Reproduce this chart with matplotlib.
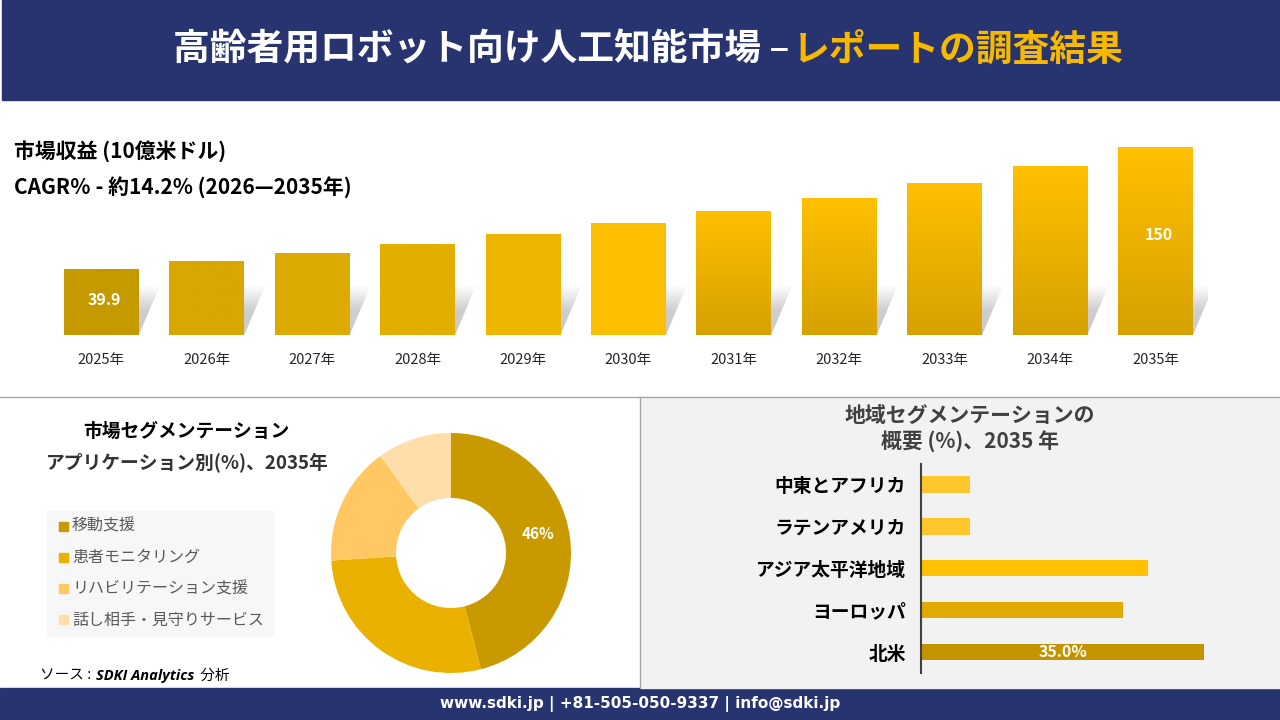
import matplotlib.pyplot as plt
import numpy as np
from matplotlib.patches import Rectangle, Polygon
from matplotlib.colors import LinearSegmentedColormap

plt.rcParams['font.family'] = ['Noto Sans CJK JP', 'DejaVu Sans']

# ---- data ----
years = ['2025年', '2026年', '2027年', '2028年', '2029年', '2030年',
         '2031年', '2032年', '2033年', '2034年', '2035年']
revenue = [39.9, 47.1, 54.3, 62.4, 71.5, 81.4, 92.5, 104.0, 117.8, 132.9, 150.0]
revenue_shown = {0: '39.9', 10: '150'}

app_labels = ['移動支援', '患者モニタリング', 'リハビリテーション支援', '話し相手・見守りサービス']
app_share = [46, 28, 16, 10]

regions = ['中東とアフリカ', 'ラテンアメリカ', 'アジア太平洋地域', 'ヨーロッパ', '北米']
region_share = [6.0, 6.0, 28.0, 25.0, 35.0]

# ---- style ----
NAVY = '#27346f'
bar_tops = ['#c49a00', '#d8a700', '#dcaa00', '#e2ae00', '#eeb600', '#fcbf00',
            '#ffc000', '#ffc000', '#ffc000', '#ffc000', '#ffc000']
bar_bottoms = ['#c49a00', '#d8a700', '#dcaa00', '#e2ae00', '#eeb600', '#fcbf00',
               '#d6a200', '#d6a200', '#d6a200', '#d6a200', '#d6a200']
pie_colors = ['#c89a00', '#ebb100', '#ffc862', '#ffdeab']
region_colors = ['#ffc72c', '#ffc72c', '#ffc000', '#e0aa00', '#c39400']

W, H = 1280, 720


def fx(px):
    return px / W


def fy(py):
    return 1 - py / H


fig = plt.figure(figsize=(12.8, 7.2), dpi=100)
fig.patch.set_facecolor('white')

# header / footer / panels
fig.add_artist(Rectangle((fx(2), fy(100)), 1, 100 / H, transform=fig.transFigure, color=NAVY, zorder=0))
fig.add_artist(Rectangle((0, 0), 1, 32 / H, transform=fig.transFigure, color=NAVY, zorder=0))
fig.add_artist(Rectangle((fx(641), fy(688)), 1, 291 / H, transform=fig.transFigure, color='#f2f2f2', zorder=0))
fig.add_artist(plt.Line2D([0, 1], [fy(397), fy(397)], transform=fig.transFigure, color='#a6a6a6', lw=1))
fig.add_artist(plt.Line2D([fx(640), fx(640)], [fy(397), fy(688)], transform=fig.transFigure, color='#a6a6a6', lw=1))

fig.text(fx(789), fy(50), '高齢者用ロボット向け人工知能市場 –', color='white', fontsize=26.5,
         fontweight='bold', ha='right', va='center')
fig.text(fx(793), fy(50), 'レポートの調査結果', color='#f7b900', fontsize=26.5,
         fontweight='bold', ha='left', va='center')
fig.text(0.5, fy(704), 'www.sdki.jp | +81-505-050-9337 | info@sdki.jp', color='white',
         fontsize=11, fontweight='bold', ha='center', va='center', family=['DejaVu Sans'])

# ---- top: revenue bars ----
fig.text(fx(14), fy(151), '市場収益 (10億米ドル)', fontsize=15, fontweight='bold', va='center')
fig.text(fx(14), fy(188), 'CAGR％ - 約14.2% (2026—2035年)', fontsize=15, fontweight='bold', va='center')

ymin, ymax = -19.7, 160
ax = fig.add_axes([fx(48.8), fy(335), 1159.4 / W, 199 / H])
x = np.arange(len(years))
w = 0.71
heights = np.array(revenue) - ymin
bars = ax.bar(x, heights, bottom=ymin, width=w, color=bar_tops, zorder=3)

shadow_cmap = LinearSegmentedColormap.from_list('sh', ['#c9c9c9', '#cfcfcf', '#ffffff'])
grad = np.linspace(0, 1, 64).reshape(-1, 1)
dx, dh = 0.2, 45
for i, b in enumerate(bars):
    x0 = b.get_x()
    x1 = x0 + b.get_width()
    poly = Polygon([(x0, ymin), (x1, ymin), (x1 + dx, ymin + dh), (x0 + dx, ymin + dh)],
                   closed=True, facecolor='none', edgecolor='none')
    ax.add_patch(poly)
    im = ax.imshow(grad, extent=(x0, x1 + dx, ymin, ymin + dh), cmap=shadow_cmap,
                   aspect='auto', zorder=2, origin='lower')
    im.set_clip_path(poly)
    cmap = LinearSegmentedColormap.from_list('b%d' % i, [bar_bottoms[i], bar_tops[i]])
    im2 = ax.imshow(grad, extent=(x0, x1, ymin, revenue[i]), cmap=cmap, aspect='auto',
                    zorder=4, origin='lower')
    im2.set_clip_path(b)

for i, txt in revenue_shown.items():
    ax.text(i + 0.03, ymin + 0.53 * heights[i], txt, color='white', fontsize=11.5,
            fontweight='bold', ha='center', va='center', zorder=6)

ax.set_xlim(-0.5, len(years) - 0.5)
ax.set_ylim(ymin, ymax)
ax.set_xticks(x, years)
ax.tick_params(axis='x', length=0, pad=13, labelsize=10.5, labelcolor='#262626')
ax.set_yticks([])
for s in ax.spines.values():
    s.set_visible(False)
ax.patch.set_alpha(0)

# ---- bottom left: donut ----
fig.text(fx(186), fy(431), '市場セグメンテーション', fontsize=13.5, fontweight='bold', ha='center', va='center')
fig.text(fx(187), fy(463), 'アプリケーション別(%)、2035年', fontsize=13.5, fontweight='bold',
         ha='center', va='center', color='#333333')

axp = fig.add_axes([fx(451 - 125), fy(553 + 125), 250 / W, 250 / H])
wedges, _ = axp.pie(app_share, colors=pie_colors, startangle=90, counterclock=False,
                    radius=1.2, wedgeprops=dict(width=0.65, edgecolor='none'))
axp.set_xlim(-1.25, 1.25)
axp.set_ylim(-1.25, 1.25)
axp.set_aspect('equal')
mid = np.deg2rad(90 - app_share[0] / 100 * 360 / 2)
r_mid = 1.2 - 0.65 / 2
axp.text(r_mid * np.cos(mid), r_mid * np.sin(mid) + 0.08, f'{app_share[0]}%', color='white',
         fontsize=11, fontweight='bold', ha='center', va='center')

fig.add_artist(Rectangle((fx(47), fy(636)), 226 / W, 125 / H, transform=fig.transFigure,
                         color='#f7f7f7', zorder=1))
for i, (lab, col) in enumerate(zip(app_labels, pie_colors)):
    yy = 526 + 31.3 * i
    fig.add_artist(Rectangle((fx(59), fy(yy + 4.5)), 9 / W, 9 / H, transform=fig.transFigure,
                             color=col, zorder=2))
    fig.text(fx(72), fy(yy), lab, fontsize=11.5, color='#595959', va='center', zorder=3)

# source line, pieces placed one after another
renderer = fig.canvas.get_renderer()
xpos = fx(40)
for txt, kw in [('ソース : ', dict(style='italic')),
                ('SDKI Analytics', dict(style='italic', fontweight='bold', family=['Open Sans'])),
                (' 分析', dict(style='italic'))]:
    t = fig.text(xpos, fy(676), txt, fontsize=10.5, va='center', **kw)
    bb = t.get_window_extent(renderer)
    xpos = bb.x1 / W + 2 / W

# ---- bottom right: region bars ----
fig.text(fx(970), fy(415), '地域セグメンテーションの', fontsize=15, fontweight='bold',
         ha='center', va='center', color='#404040')
fig.text(fx(970), fy(442), '概要 (%)、2035 年', fontsize=15, fontweight='bold',
         ha='center', va='center', color='#404040')

axr = fig.add_axes([fx(921), fy(673), 323.6 / W, 209 / H])
yr = np.arange(len(regions))
axr.barh(yr, region_share, height=0.4, color=region_colors)
axr.set_xlim(0, 40)
axr.set_ylim(4.5, -0.48)
axr.set_yticks(yr, regions)
axr.tick_params(axis='y', length=0, pad=11, labelsize=13.5)
for t in axr.get_yticklabels():
    t.set_fontweight('bold')
axr.set_xticks([])
for k in ['top', 'right', 'bottom']:
    axr.spines[k].set_visible(False)
axr.spines['left'].set_color('#404040')
axr.spines['left'].set_linewidth(1.5)
axr.patch.set_alpha(0)
axr.text(region_share[-1] / 2, yr[-1], f'{region_share[-1]:.1f}%', color='white', fontsize=11.5,
         fontweight='bold', ha='center', va='center')

fig.savefig('out.png', dpi=100)
